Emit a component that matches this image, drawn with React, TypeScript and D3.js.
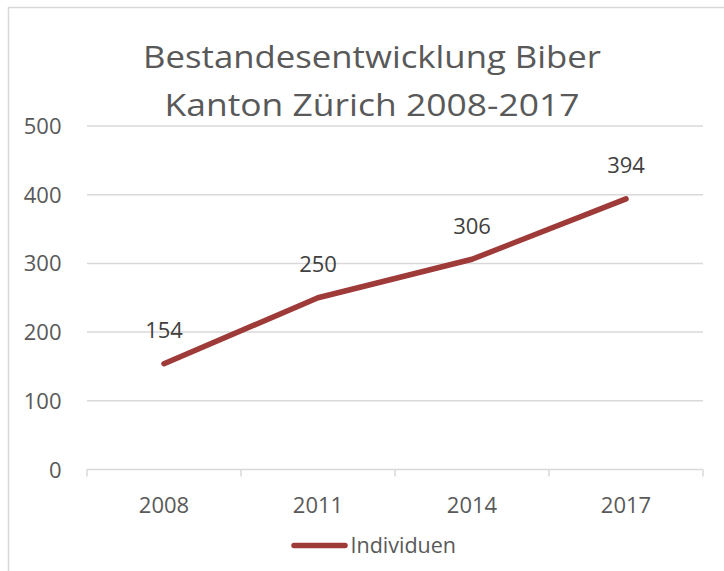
import React from "react";
import * as d3 from "d3";

const categories = ["2008", "2011", "2014", "2017"];
const values = [154, 250, 306, 394];
const yTicks = [0, 100, 200, 300, 400, 500];
const seriesName = "Individuen";
const titleLines = ["Bestandesentwicklung Biber", "Kanton Zürich 2008-2017"];

export default function App() {
  const W = 724, H = 571;
  const left = 87, right = 703, top = 126, bottom = 469.5;
  const x = d3.scaleBand<string>().domain(categories).range([left, right]);
  const y = d3.scaleLinear().domain([0, 500]).range([bottom, top]);
  const line = d3
    .line<number>()
    .x((_, i) => (x(categories[i]) as number) + x.bandwidth() / 2)
    .y((d) => y(d));
  const font = "'Open Sans', 'Noto Sans', sans-serif";
  const txt = "#595959";
  const lineColor = "#9E3A38";
  const titleWidths = [458, 415];
  return (
    <svg
      width={W}
      height={H}
      style={{ position: "absolute", left: 0, top: 0, fontFamily: font }}
    >
      <rect x={0} y={0} width={W} height={H} fill="#fff" />
      <rect x={8.5} y={7.5} width={W + 20} height={H + 20} fill="#fff" stroke="#d9d9d9" strokeWidth={1.5} />
      {titleLines.map((t, i) => (
        <text
          key={i}
          x={372}
          y={67.5 + i * 48.5}
          textAnchor="middle"
          fontSize={31.5}
          fill={txt}
          textLength={titleWidths[i]}
          lengthAdjust="spacingAndGlyphs"
        >
          {t}
        </text>
      ))}
      {yTicks.map((t) => (
        <g key={t}>
          {t > 0 && (
            <line x1={left} x2={right} y1={y(t)} y2={y(t)} stroke="#d9d9d9" strokeWidth={1.5} />
          )}
          <text x={61.5} y={y(t) + 8} textAnchor="end" fontSize={22} fill={txt}>
            {t}
          </text>
        </g>
      ))}
      <line x1={left} x2={right} y1={bottom} y2={bottom} stroke="#d9d9d9" strokeWidth={1.5} />
      {[...categories.map((c) => x(c) as number), right].map((tx, i) => (
        <line key={i} x1={tx} x2={tx} y1={bottom} y2={bottom + 7} stroke="#d9d9d9" strokeWidth={1.5} />
      ))}
      {categories.map((c) => (
        <text
          key={c}
          x={(x(c) as number) + x.bandwidth() / 2}
          y={513}
          textAnchor="middle"
          fontSize={22}
          fill={txt}
        >
          {c}
        </text>
      ))}
      <path
        d={line(values) || ""}
        fill="none"
        stroke={lineColor}
        strokeWidth={5.5}
        strokeLinecap="round"
        strokeLinejoin="round"
      />
      {values.map((v, i) => (
        <text
          key={i}
          x={(x(categories[i]) as number) + x.bandwidth() / 2}
          y={y(v) - 25.5}
          textAnchor="middle"
          fontSize={22}
          fill="#404040"
        >
          {v}
        </text>
      ))}
      <line x1={294} x2={345} y1={545.5} y2={545.5} stroke={lineColor} strokeWidth={5.5} strokeLinecap="round" />
      <text x={350.5} y={553} fontSize={21.5} fill={txt}>
        {seriesName}
      </text>
    </svg>
  );
}
